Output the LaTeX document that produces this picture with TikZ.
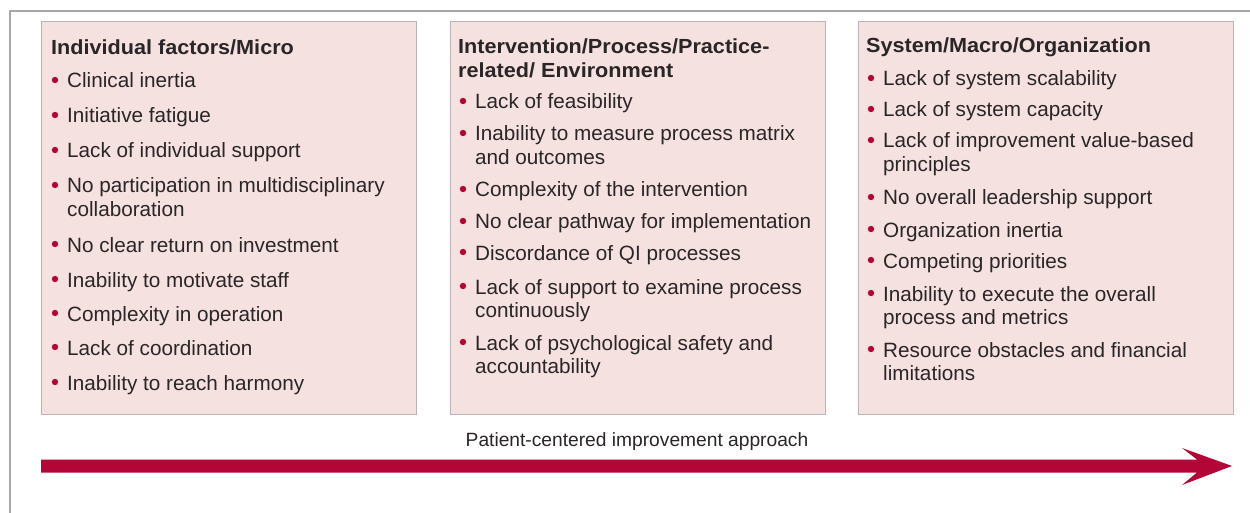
\documentclass[tikz,border=0pt]{standalone}
\usepackage{fontspec}
\setmainfont{Liberation Sans}
\newfontfamily\headfont[FakeStretch=1.06]{Liberation Sans}

\definecolor{boxfill}{HTML}{F5E1E0}
\definecolor{boxline}{HTML}{BAB3B3}
\definecolor{crimson}{HTML}{B30536}
\definecolor{ink}{HTML}{2A2526}
\definecolor{framegray}{HTML}{A8A8A8}

\tikzset{
  panel/.style={draw=boxline, fill=boxfill, line width=1.4pt, anchor=north west,
                minimum width=375pt, minimum height=393pt, inner sep=0},
  head/.style={anchor=base west, inner sep=0, text=ink,
               font=\headfont\bfseries\fontsize{20.4}{24}\selectfont},
  itemtext/.style={anchor=base west, inner sep=0, text=ink,
                   font=\fontsize{20.7}{24}\selectfont},
  dot/.style={circle, fill=crimson, inner sep=0, minimum size=6.4pt},
  caption/.style={anchor=base, inner sep=0, text=ink,
                  font=\fontsize{19.2}{22}\selectfont},
}

% bulleted line: name, x of text, baseline, text
\newcommand\bitem[4]{%
  \node[dot] (#1d) at (#2-12,#3-8) {};
  \node[itemtext] (#1) at (#2,#3) {#4};}
% continuation line of a bullet
\newcommand\bcont[4]{\node[itemtext] (#1) at (#2,#3) {#4};}

\begin{document}
\begin{tikzpicture}[x=1pt,y=-1pt]
\useasboundingbox (0,0) rectangle (1250,513);

% outer frame
\draw[framegray, line width=1.5pt] (1250,11) -- (10,11) -- (10,513);

% three panels
\node[panel] (p1) at (41,21) {};
\node[panel] (p2) at (450,21) {};
\node[panel] (p3) at (858,21) {};

% panel 1
\node[head] (h1) at (51,55) {Individual factors/Micro};
\bitem{a1}{67}{88}{Clinical inertia}
\bitem{a2}{67}{123}{Initiative fatigue}
\bitem{a3}{67}{158}{Lack of individual support}
\bitem{a4}{67}{193}{No participation in multidisciplinary}
\bcont{a4b}{67}{217}{collaboration}
\bitem{a5}{67}{252}{No clear return on investment}
\bitem{a6}{67}{287}{Inability to motivate staff}
\bitem{a7}{67}{321}{Complexity in operation}
\bitem{a8}{67}{355}{Lack of coordination}
\bitem{a9}{67}{390}{Inability to reach harmony}

% panel 2
\node[head] (h2) at (458,54) {Intervention/Process/Practice-};
\node[head] (h2b) at (458,78) {related/ Environment};
\bitem{b1}{475}{109}{Lack of feasibility}
\bitem{b2}{475}{141}{Inability to measure process matrix}
\bcont{b2b}{475}{165}{and outcomes}
\bitem{b3}{475}{197}{Complexity of the intervention}
\bitem{b4}{475}{229}{No clear pathway for implementation}
\bitem{b5}{475}{260}{Discordance of QI processes}
\bitem{b6}{475}{294}{Lack of support to examine process}
\bcont{b6b}{475}{317}{continuously}
\bitem{b7}{475}{350}{Lack of psychological safety and}
\bcont{b7b}{475}{373}{accountability}

% panel 3
\node[head] (h3) at (866,53) {System/Macro/Organization};
\bitem{c1}{883}{86}{Lack of system scalability}
\bitem{c2}{883}{117}{Lack of system capacity}
\bitem{c3}{883}{148}{Lack of improvement value-based}
\bcont{c3b}{883}{172}{principles}
\bitem{c4}{883}{205}{No overall leadership support}
\bitem{c5}{883}{237}{Organization inertia}
\bitem{c6}{883}{268}{Competing priorities}
\bitem{c7}{883}{301}{Inability to execute the overall}
\bcont{c7b}{883}{324}{process and metrics}
\bitem{c8}{883}{357}{Resource obstacles and financial}
\bcont{c8b}{883}{380}{limitations}

% approach arrow
\node[caption] (cap) at (637,446) {Patient-centered improvement approach};
\coordinate (arrS) at (41,466);
\coordinate (arrE) at (1232,466);
\fill[crimson] (41,459.5) -- (1197,459.5) -- (1182,448) -- (arrE)
  -- (1182,485) -- (1197,472.5) -- (41,472.5) -- cycle;
\end{tikzpicture}
\end{document}
